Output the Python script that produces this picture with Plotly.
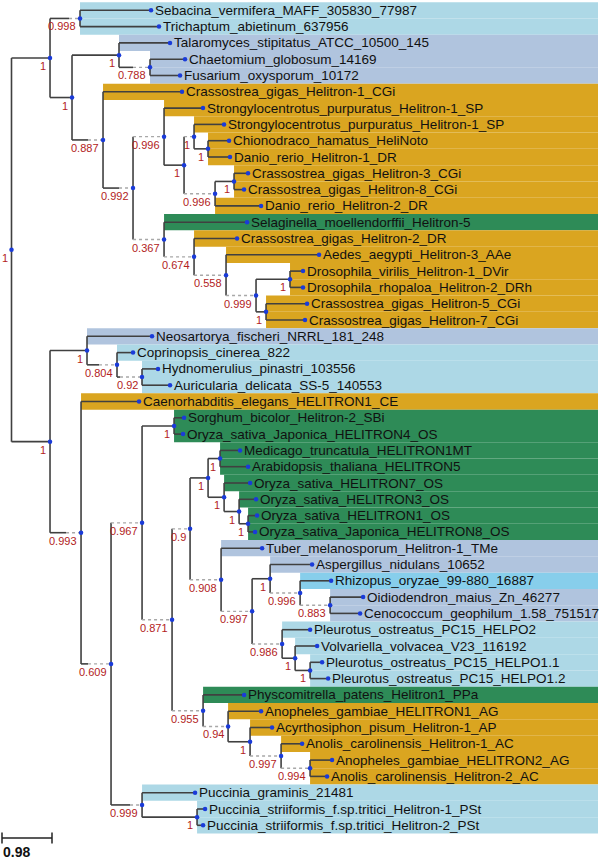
import plotly.graph_objects as go

# ---------------- data ----------------
leaf_names = [
    "Sebacina_vermifera_MAFF_305830_77987",
    "Trichaptum_abietinum_637956",
    "Talaromyces_stipitatus_ATCC_10500_145",
    "Chaetomium_globosum_14169",
    "Fusarium_oxysporum_10172",
    "Crassostrea_gigas_Helitron-1_CGi",
    "Strongylocentrotus_purpuratus_Helitron-1_SP",
    "Strongylocentrotus_purpuratus_Helitron-1_SP",
    "Chionodraco_hamatus_HeliNoto",
    "Danio_rerio_Helitron-1_DR",
    "Crassostrea_gigas_Helitron-3_CGi",
    "Crassostrea_gigas_Helitron-8_CGi",
    "Danio_rerio_Helitron-2_DR",
    "Selaginella_moellendorffii_Helitron-5",
    "Crassostrea_gigas_Helitron-2_DR",
    "Aedes_aegypti_Helitron-3_AAe",
    "Drosophila_virilis_Helitron-1_DVir",
    "Drosophila_rhopaloa_Helitron-2_DRh",
    "Crassostrea_gigas_Helitron-5_CGi",
    "Crassostrea_gigas_Helitron-7_CGi",
    "Neosartorya_fischeri_NRRL_181_248",
    "Coprinopsis_cinerea_822",
    "Hydnomerulius_pinastri_103556",
    "Auricularia_delicata_SS-5_140553",
    "Caenorhabditis_elegans_HELITRON1_CE",
    "Sorghum_bicolor_Helitron-2_SBi",
    "Oryza_sativa_Japonica_HELITRON4_OS",
    "Medicago_truncatula_HELITRON1MT",
    "Arabidopsis_thaliana_HELITRON5",
    "Oryza_sativa_HELITRON7_OS",
    "Oryza_sativa_HELITRON3_OS",
    "Oryza_sativa_HELITRON1_OS",
    "Oryza_sativa_Japonica_HELITRON8_OS",
    "Tuber_melanosporum_Helitron-1_TMe",
    "Aspergillus_nidulans_10652",
    "Rhizopus_oryzae_99-880_16887",
    "Oidiodendron_maius_Zn_46277",
    "Cenococcum_geophilum_1.58_751517",
    "Pleurotus_ostreatus_PC15_HELPO2",
    "Volvariella_volvacea_V23_116192",
    "Pleurotus_ostreatus_PC15_HELPO1.1",
    "Pleurotus_ostreatus_PC15_HELPO1.2",
    "Physcomitrella_patens_Helitron1_PPa",
    "Anopheles_gambiae_HELITRON1_AG",
    "Acyrthosiphon_pisum_Helitron-1_AP",
    "Anolis_carolinensis_Helitron-1_AC",
    "Anopheles_gambiae_HELITRON2_AG",
    "Anolis_carolinensis_Helitron-2_AC",
    "Puccinia_graminis_21481",
    "Puccinia_striiformis_f.sp.tritici_Helitron-1_PSt",
    "Puccinia_striiformis_f.sp.tritici_Helitron-2_PSt",
]

B, A, M, Z, P = "Basidiomycota", "Ascomycota", "Mucoromycota", "Metazoa", "Viridiplantae"
leaf_group = [B, B, A, A, A, Z, Z, Z, Z, Z, Z, Z, Z, P, Z, Z, Z, Z, Z, Z,
              A, B, B, B, Z, P, P, P, P, P, P, P, P, A, A, M, A, A, B, B,
              B, B, P, Z, Z, Z, Z, Z, B, B, B]

leaf_parent = ["S", "S", "C", "D", "D", "F", "H", "K", "L", "L", "N", "N", "M", "I", "O", "P",
               "T", "T", "U", "U", "V", "X", "Y", "Y", "W", "AD", "AD", "AJ", "AJ", "AK", "AL",
               "AM", "AM", "AI", "AO", "AQ", "AR", "AR", "AP", "AS", "AT", "AT", "AG", "AU",
               "AV", "AW", "AX", "AX", "AB", "AC", "AC"]

leaf_length = [1.392, 1.548, 1.000, 0.686, 0.588, 1.548, 0.764, 0.588, 0.412, 0.431, 0.274,
               0.196, 0.902, 1.627, 0.843, 1.823, 0.255, 0.255, 0.804, 0.764, 1.274, 0.314,
               0.314, 0.549, 1.137, 0.196, 0.176, 0.392, 0.549, 0.510, 0.333, 0.176, 0.137,
               0.804, 0.823, 0.608, 0.647, 0.588, 0.549, 0.431, 0.235, 0.353, 0.804, 0.647,
               0.431, 0.412, 0.431, 0.333, 1.039, 0.157, 0.118]

int_ids = ["R", "A", "S", "B", "C", "D", "F", "G", "H", "J", "K", "L", "M", "N", "I", "O", "P",
           "Q", "T", "U", "E", "V", "X", "Y", "W", "Z", "AA", "AD", "AE", "AF", "AH", "AJ", "AK",
           "AL", "AM", "AI", "AN", "AO", "AQ", "AR", "AP", "AS", "AT", "AG", "AU", "AV", "AW",
           "AX", "AB", "AC"]
int_parent = [None, "R", "A", "A", "B", "C", "B", "F", "G", "H", "J", "K", "J", "M", "G", "I",
              "O", "P", "Q", "Q", "R", "E", "V", "X", "E", "W", "Z", "AA", "AA", "AE", "AF",
              "AH", "AH", "AK", "AL", "AF", "AI", "AN", "AO", "AQ", "AN", "AP", "AS", "AE",
              "AG", "AU", "AV", "AW", "Z", "AB"]
int_length = [0.0, 0.755, 0.588, 0.431, 0.921, 0.608, 0.608, 0.588, 0.608, 0.392, 0.196, 0.274,
              0.608, 0.372, 0.608, 0.588, 0.627, 0.588, 0.666, 0.196, 0.755, 0.725, 0.588, 0.490,
              0.608, 0.588, 0.608, 0.627, 0.588, 0.353, 0.353, 0.235, 0.314, 0.294, 0.176, 0.608,
              0.608, 0.353, 0.588, 0.588, 0.588, 0.255, 0.294, 0.608, 0.490, 0.431, 0.608, 0.568,
              0.608, 1.078]
int_support = ["1", "1", "0.998", "1", "1", "0.788", "0.887", "0.992", "0.996", "1", "1", "1",
               "0.996", "1", "0.367", "0.674", "0.558", "0.999", "1", "1", "1", "1", "0.804",
               "0.92", "0.993", "0.609", "0.967", "1", "0.871", "0.9", "1", "1", "1", "1", "1",
               "0.908", "0.997", "1", "0.996", "0.883", "0.986", "1", "1", "0.955", "0.94", "1",
               "0.997", "0.994", "0.999", "1"]

scale_bar_length = 0.98

# ---------------- style ----------------
group_colors = {B: "#ADD8E6", A: "#B0C4DE", M: "#87CEEB", Z: "#DAA520", P: "#2E8B57"}
W_PX, H_PX = 600, 860
PX_PER_UNIT = 50 / 0.98
ROW_PX = 16.3
X0_PX, Y0_PX = 11.5, 10.3
LINE_COL = "#404040"
DOT_COL = "#1a3bd9"
SUP_COL = "#B22222"
FONT = "Liberation Sans, Arial, sans-serif"
# length (px) of the faded part of a branch under its support label
dotted_tail_px = {"S": 11, "D": 17, "F": 15, "G": 14, "X": 18, "Y": 22, "W": 15, "Z": 23,
                  "AB": 12, "K": 10}

x_range = [-X0_PX / PX_PER_UNIT, (W_PX - X0_PX) / PX_PER_UNIT]
y_range = [(H_PX - Y0_PX) / ROW_PX, -Y0_PX / ROW_PX]
band_right = (598 - X0_PX) / PX_PER_UNIT

# ---------------- tree geometry ----------------
xpos, ypos = {}, {}
children = {n: [] for n in int_ids}
for nid, par, ln in zip(int_ids, int_parent, int_length):
    xpos[nid] = 0.0 if par is None else xpos[par] + ln
    if par is not None:
        children[par].append(nid)
leaf_keys = []
for i, (par, ln) in enumerate(zip(leaf_parent, leaf_length)):
    k = f"leaf{i}"
    leaf_keys.append(k)
    xpos[k] = xpos[par] + ln
    ypos[k] = i
    children[par].append(k)
for nid in reversed(int_ids):
    ys = [ypos[c] for c in children[nid]]
    ypos[nid] = (min(ys) + max(ys)) / 2

parent_of = dict(zip(int_ids, int_parent))
parent_of.update(dict(zip(leaf_keys, leaf_parent)))
support_of = dict(zip(int_ids, int_support))

solid_x, solid_y, dot_x, dot_y = [], [], [], []
for nid in int_ids:
    ys = [ypos[c] for c in children[nid]]
    solid_x += [xpos[nid], xpos[nid], None]
    solid_y += [min(ys), max(ys), None]
for k, par in parent_of.items():
    if par is None:
        continue
    x0, x1, y = xpos[par], xpos[k], ypos[k]
    tail = 0.0
    if k in dotted_tail_px:
        tail = dotted_tail_px[k] / PX_PER_UNIT
    elif k in support_of and support_of[k] != "1":
        tail = x1 - x0
    xm = max(x0, x1 - tail)
    if xm > x0:
        solid_x += [x0, xm, None]
        solid_y += [y, y, None]
    if x1 > xm:
        dot_x += [xm, x1, None]
        dot_y += [y, y, None]

fig = go.Figure()

# coloured ranges behind each leaf, starting at its parent node
shapes = []
for i, (par, grp) in enumerate(zip(leaf_parent, leaf_group)):
    shapes.append(dict(type="rect", xref="x", yref="y", x0=xpos[par], x1=band_right,
                       y0=i - 0.5, y1=i + 0.5, fillcolor=group_colors[grp],
                       line=dict(width=0), layer="below"))

fig.add_trace(go.Scatter(x=solid_x, y=solid_y, mode="lines",
                         line=dict(color=LINE_COL, width=1.6), hoverinfo="skip"))
fig.add_trace(go.Scatter(x=dot_x, y=dot_y, mode="lines",
                         line=dict(color="#a8a8a8", width=1.4, dash="dot"), hoverinfo="skip"))
all_nodes = int_ids + leaf_keys
fig.add_trace(go.Scatter(x=[xpos[n] for n in all_nodes], y=[ypos[n] for n in all_nodes],
                         mode="markers", marker=dict(color=DOT_COL, size=4.5), hoverinfo="skip"))

annotations = []
for k, name in zip(leaf_keys, leaf_names):
    annotations.append(dict(x=xpos[k], y=ypos[k], xref="x", yref="y", text=name,
                            showarrow=False, xanchor="left", yanchor="middle", xshift=1.5,
                            font=dict(family=FONT, size=13.5, color="#111111")))
for nid, sup in zip(int_ids, int_support):
    annotations.append(dict(x=xpos[nid], y=ypos[nid], xref="x", yref="y", text=sup,
                            showarrow=False, xanchor="right", yanchor="top", xshift=-2,
                            yshift=0, font=dict(family=FONT, size=11, color=SUP_COL)))

# scale bar
sb_x0 = x_range[0] + 2 / PX_PER_UNIT
sb_y = y_range[0] - 22 / ROW_PX
sb_x1 = sb_x0 + scale_bar_length
shapes.append(dict(type="line", xref="x", yref="y", x0=sb_x0, x1=sb_x1, y0=sb_y, y1=sb_y,
                   line=dict(color="#222", width=1.5)))
for xx in (sb_x0, sb_x1):
    shapes.append(dict(type="line", xref="x", yref="y", x0=xx, x1=xx,
                       y0=sb_y - 0.33, y1=sb_y + 0.33, line=dict(color="#222", width=1.5)))
annotations.append(dict(x=sb_x0, y=sb_y + 13.5 / ROW_PX, xref="x", yref="y",
                        text=f"<b>{scale_bar_length}</b>",
                        showarrow=False, xanchor="left", yanchor="middle", xshift=-1,
                        font=dict(family=FONT, size=14, color="#111")))

fig.update_layout(
    width=W_PX, height=H_PX, margin=dict(l=0, r=0, t=0, b=0),
    paper_bgcolor="white", plot_bgcolor="white", showlegend=False,
    xaxis=dict(range=x_range, visible=False, fixedrange=True),
    yaxis=dict(range=y_range, visible=False, fixedrange=True),
    shapes=shapes, annotations=annotations,
)
fig.write_html(
    "out.html",
    config={"displayModeBar": False},
    post_script="document.body.style.margin='0';document.body.style.overflow='hidden';",
)
